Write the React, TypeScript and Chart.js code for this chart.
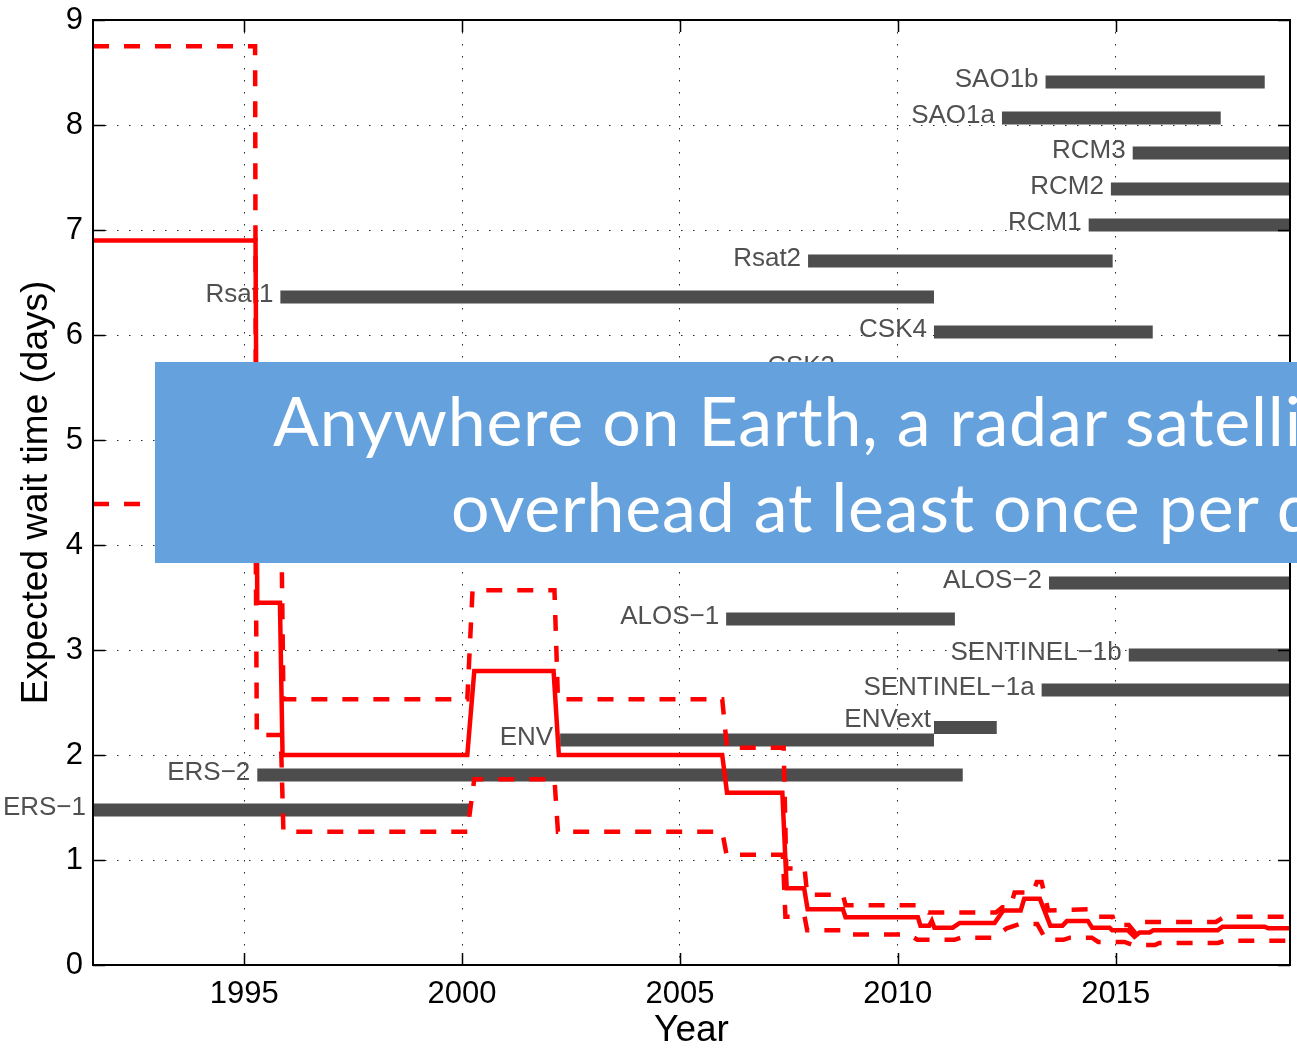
import React, { useEffect, useRef } from "react";
import { Chart, registerables } from "chart.js";

Chart.register(...registerables);

// ---------- axes ----------
const X_MIN = 1991.53;
const X_MAX = 2019.0;
const X_TICKS = [1995, 2000, 2005, 2010, 2015];
const Y_MIN = 0;
const Y_MAX = 9;
const Y_TICKS = [0, 1, 2, 3, 4, 5, 6, 7, 8, 9];
const X_TITLE = "Year";
const Y_TITLE = "Expected wait time (days)";

// ---------- expected wait time (solid) ----------
const MEAN_X = [1991.53, 1995.26, 1995.3, 1995.82, 1995.88, 2000.12, 2000.28, 2002.1, 2002.22, 2005.97, 2006.08, 2007.35, 2007.45, 2007.85, 2007.93, 2008.74, 2008.8, 2010.46, 2010.52, 2010.72, 2010.78, 2010.84, 2011.26, 2011.42, 2012.22, 2012.42, 2012.82, 2012.9, 2013.26, 2013.5, 2013.78, 2013.88, 2014.36, 2014.46, 2014.86, 2014.92, 2015.28, 2015.43, 2015.55, 2015.78, 2015.86, 2017.34, 2017.45, 2018.42, 2018.5, 2019.0];
const MEAN_Y = [6.9, 6.9, 3.45, 3.45, 2.0, 2.0, 2.8, 2.8, 2.0, 2.0, 1.64, 1.64, 0.73, 0.73, 0.53, 0.53, 0.455, 0.455, 0.375, 0.375, 0.42, 0.355, 0.355, 0.4, 0.4, 0.52, 0.52, 0.63, 0.63, 0.375, 0.375, 0.42, 0.42, 0.355, 0.355, 0.33, 0.33, 0.27, 0.31, 0.31, 0.33, 0.33, 0.365, 0.365, 0.35, 0.35];

// ---------- upper bound (dashed) ----------
const UPPER_X = [1991.53, 1995.25, 1995.27, 1995.84, 1995.9, 2000.12, 2000.24, 2002.12, 2002.2, 2005.97, 2006.08, 2007.38, 2007.44, 2007.86, 2007.92, 2008.74, 2008.8, 2010.46, 2010.7, 2012.25, 2012.4, 2012.58, 2012.68, 2013.1, 2013.19, 2013.3, 2013.45, 2014.36, 2014.5, 2014.93, 2015.0, 2015.3, 2015.44, 2015.55, 2017.3, 2017.5, 2019.0];
const UPPER_Y = [8.75, 8.75, 4.6, 4.6, 2.53, 2.53, 3.57, 3.57, 2.53, 2.53, 2.07, 2.07, 0.92, 0.92, 0.67, 0.67, 0.57, 0.57, 0.5, 0.5, 0.55, 0.55, 0.69, 0.69, 0.79, 0.79, 0.52, 0.53, 0.46, 0.46, 0.38, 0.38, 0.31, 0.41, 0.41, 0.46, 0.46];

// ---------- lower bound (dashed) ----------
const LOWER_X = [1991.53, 1995.26, 1995.29, 1995.84, 1995.9, 2000.12, 2000.28, 2002.12, 2002.2, 2005.97, 2006.07, 2007.36, 2007.42, 2007.86, 2007.92, 2008.74, 2008.8, 2010.25, 2010.45, 2011.3, 2011.45, 2012.2, 2012.5, 2012.8, 2013.2, 2013.4, 2013.8, 2013.95, 2014.45, 2014.6, 2015.2, 2015.4, 2015.9, 2016.0, 2017.35, 2017.5, 2019.0];
const LOWER_Y = [4.39, 4.39, 2.19, 2.19, 1.27, 1.27, 1.77, 1.77, 1.27, 1.27, 1.05, 1.05, 0.46, 0.46, 0.33, 0.33, 0.29, 0.29, 0.24, 0.24, 0.26, 0.26, 0.35, 0.39, 0.39, 0.24, 0.24, 0.26, 0.26, 0.22, 0.22, 0.19, 0.19, 0.21, 0.21, 0.23, 0.23];

// ---------- satellite missions ----------
const SAT_NAMES = ["ERS\u22121", "ERS\u22122", "ENV", "ENVext", "SENTINEL\u22121a", "SENTINEL\u22121b", "ALOS\u22121", "ALOS\u22122", "CSK3", "CSK4", "Rsat1", "Rsat2", "RCM1", "RCM2", "RCM3", "SAO1a", "SAO1b"];
const SAT_LEVEL = [1.476, 1.81, 2.143, 2.262, 2.619, 2.952, 3.295, 3.638, 5.68, 6.029, 6.362, 6.705, 7.048, 7.39, 7.733, 8.067, 8.41];
const SAT_START = [1991.53, 1995.3, 2002.25, 2010.83, 2013.3, 2015.3, 2006.06, 2013.47, 2008.72, 2010.83, 1995.83, 2007.94, 2014.38, 2014.89, 2015.39, 2012.39, 2013.39];
const SAT_END = [2000.18, 2011.49, 2010.83, 2012.27, 2019.5, 2019.5, 2011.31, 2019.5, 2015.5, 2015.85, 2010.83, 2014.93, 2019.5, 2019.5, 2019.5, 2017.41, 2018.42];

// ---------- overlay ----------
const BANNER_LINES = ["Anywhere on Earth, a radar satellite is", "overhead at least once per day"];

const FONT = '"Liberation Sans", Arial, Helvetica, sans-serif';

const decorPlugin = {
  id: "decor",
  beforeDatasetsDraw(chart: any) {
    const { ctx, scales } = chart;
    const x = scales.x;
    const y = scales.y;
    ctx.save();
    ctx.font = `26px ${FONT}`;
    ctx.fillStyle = "#505050";
    ctx.textAlign = "right";
    ctx.textBaseline = "alphabetic";
    SAT_NAMES.forEach((name, i) => {
      const start = Math.max(SAT_START[i], X_MIN);
      let px = x.getPixelForValue(start) - 7;
      let py = y.getPixelForValue(SAT_LEVEL[i]) + 5;
      if (name === "ENVext") {
        px += 4;
        py -= 5;
      }
      ctx.fillText(name, px, py);
    });
    ctx.restore();
  },
  afterDraw(chart: any) {
    const { ctx, chartArea, scales } = chart;
    const { left, right, top, bottom } = chartArea;
    ctx.save();
    ctx.strokeStyle = "#000";
    ctx.lineWidth = 1.5;
    const tl = 12;
    ctx.beginPath();
    X_TICKS.forEach((v) => {
      const px = Math.round(scales.x.getPixelForValue(v)) + 0.5;
      ctx.moveTo(px, bottom);
      ctx.lineTo(px, bottom - tl);
      ctx.moveTo(px, top);
      ctx.lineTo(px, top + tl);
    });
    Y_TICKS.forEach((v) => {
      const py = Math.round(scales.y.getPixelForValue(v)) + 0.5;
      ctx.moveTo(left, py);
      ctx.lineTo(left + tl, py);
      ctx.moveTo(right, py);
      ctx.lineTo(right - tl, py);
    });
    ctx.stroke();
    ctx.lineWidth = 2;
    ctx.strokeRect(left, top, right - left, bottom - top);
    ctx.restore();
  },
};

const bannerText: React.CSSProperties = {
  position: "absolute",
  whiteSpace: "nowrap",
  color: "#fff",
  fontFamily: "Lato, 'Open Sans', sans-serif",
  fontSize: 68,
  letterSpacing: "0.8px",
  lineHeight: "86px",
};

export default function App() {
  const canvasRef = useRef<HTMLCanvasElement | null>(null);

  useEffect(() => {
    const canvas = canvasRef.current;
    if (!canvas) return;

    const redLine = (xs: number[], ys: number[], dash: number[]) => ({
      type: "line" as const,
      data: xs.map((xv, i) => ({ x: xv, y: ys[i] })),
      borderColor: "#ff0000",
      backgroundColor: "#ff0000",
      borderWidth: 4.5,
      borderDash: dash,
      pointRadius: 0,
      fill: false,
      tension: 0,
      order: 0,
    });

    const bars = SAT_NAMES.map((name, i) => ({
      type: "line" as const,
      label: name,
      data: [
        { x: SAT_START[i], y: SAT_LEVEL[i] },
        { x: SAT_END[i], y: SAT_LEVEL[i] },
      ],
      borderColor: "#4d4d4d",
      backgroundColor: "#4d4d4d",
      borderWidth: 13,
      borderCapStyle: "butt" as const,
      pointRadius: 0,
      fill: false,
      order: 2,
      clip: 0,
    }));

    const chart = new Chart(canvas, {
      type: "line",
      data: {
        datasets: [
          ...bars,
          redLine(UPPER_X, UPPER_Y, [16, 15]),
          redLine(LOWER_X, LOWER_Y, [16, 15]),
          redLine(MEAN_X, MEAN_Y, []),
        ] as any,
      },
      options: {
        animation: false,
        responsive: false,
        maintainAspectRatio: false,
        devicePixelRatio: 1,
        layout: { padding: { left: 0, top: 20, right: 7, bottom: 0 } },
        plugins: { legend: { display: false }, tooltip: { enabled: false } },
        elements: { point: { radius: 0 } },
        scales: {
          x: {
            type: "linear",
            min: X_MIN,
            max: X_MAX,
            afterBuildTicks: (s: any) => {
              s.ticks = X_TICKS.map((v) => ({ value: v }));
            },
            afterFit: (s: any) => {
              s.height = 88;
              s.paddingLeft = 0;
              s.paddingRight = 0;
            },
            grid: { color: "rgba(0,0,0,0.85)", lineWidth: 1, drawTicks: false },
            border: { display: false, dash: [1.5, 10.5] },
            ticks: {
              color: "#000",
              font: { family: FONT, size: 31 },
              padding: 11,
              maxRotation: 0,
              autoSkip: false,
              callback: (v: any) => String(v),
            },
            title: {
              display: true,
              text: X_TITLE,
              color: "#000",
              font: { family: FONT, size: 37 },
              padding: { top: 0, bottom: 0 },
            },
          },
          y: {
            type: "linear",
            min: Y_MIN,
            max: Y_MAX,
            afterBuildTicks: (s: any) => {
              s.ticks = Y_TICKS.map((v) => ({ value: v }));
            },
            afterFit: (s: any) => {
              s.width = 93;
              s.paddingTop = 0;
              s.paddingBottom = 0;
            },
            grid: { color: "rgba(0,0,0,0.85)", lineWidth: 1, drawTicks: false },
            border: { display: false, dash: [1.5, 10.5] },
            ticks: {
              color: "#000",
              font: { family: FONT, size: 31 },
              padding: 10,
              callback: (v: any) => String(v),
            },
            title: {
              display: true,
              text: Y_TITLE,
              color: "#000",
              font: { family: FONT, size: 37 },
              padding: { top: 15, bottom: 0 },
            },
          },
        },
      } as any,
      plugins: [decorPlugin],
    });

    return () => chart.destroy();
  }, []);

  return (
    <div
      style={{
        position: "absolute",
        left: 0,
        top: 0,
        width: 1297,
        height: 1053,
        overflow: "hidden",
        background: "#fff",
      }}
    >
      <canvas ref={canvasRef} width={1297} height={1053} style={{ width: 1297, height: 1053, display: "block" }} />
      <div
        style={{
          position: "absolute",
          left: 155,
          top: 362,
          width: 1142,
          height: 201,
          background: "rgb(101,161,220)",
        }}
      />
      <div style={{ ...bannerText, left: 273, top: 377 }}>{BANNER_LINES[0]}</div>
      <div style={{ ...bannerText, left: 451, top: 463 }}>{BANNER_LINES[1]}</div>
    </div>
  );
}
